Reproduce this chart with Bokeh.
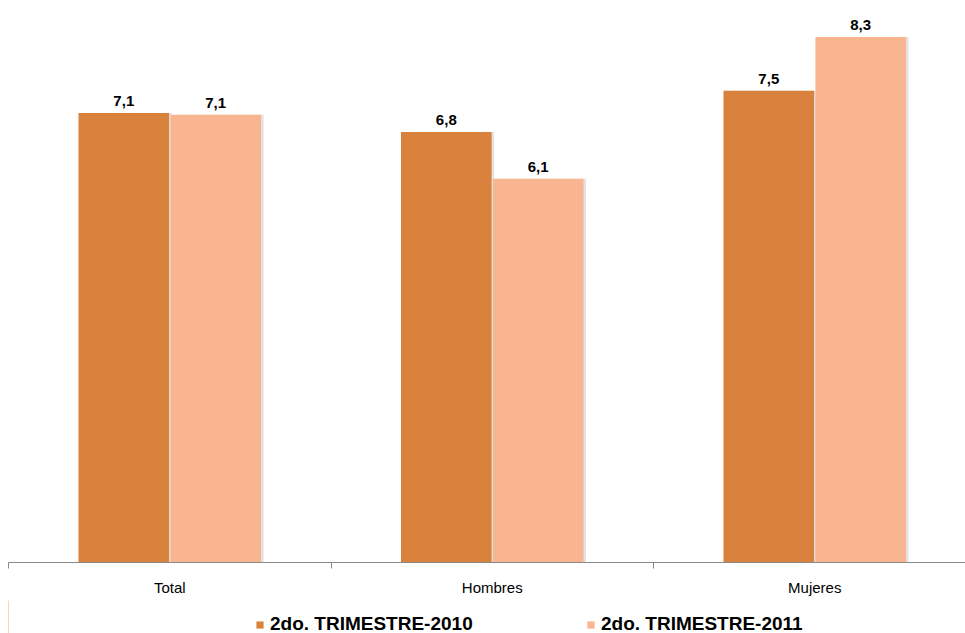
import numpy as np
from bokeh.plotting import figure
from bokeh.layouts import column
from bokeh.models import Range1d, FixedTicker, ColumnDataSource, Legend, LegendItem
from bokeh.core.properties import value
from bokeh.embed import file_html
from bokeh.resources import INLINE

categories = ["Total", "Hombres", "Mujeres"]
series_names = ["2do. TRIMESTRE-2010", "2do. TRIMESTRE-2011"]
values_2010 = [7.1, 6.8, 7.45]
values_2011 = [7.07, 6.06, 8.3]
labels_2010 = ["7,1", "6,8", "7,5"]
labels_2011 = ["7,1", "6,1", "8,3"]
colors = ["#D9823D", "#F8B590"]

FONT = "Liberation Sans"
W = 965
FW = 957
cat_px = 322.5

p = figure(width=W, height=600, output_backend="svg", toolbar_location=None,
           x_range=Range1d(0, FW / cat_px), y_range=Range1d(0, 8.75),
           min_border_left=8, min_border_right=0, min_border_top=8, min_border_bottom=38)
p.outline_line_color = None
p.grid.grid_line_color = None
p.yaxis.visible = False
p.background_fill_color = "white"
p.border_fill_color = "white"

centers = np.arange(len(categories)) + 0.5
off = 0.1425
bw = 0.281
shadow = 2.5 / cat_px

for vals, labs, col, d in [(values_2010, labels_2010, colors[0], -off),
                           (values_2011, labels_2011, colors[1], off)]:
    src = ColumnDataSource(dict(x=centers + d, xs=centers + d + shadow, top=vals, lab=labs))
    p.vbar(x="xs", top="top", width=bw, source=src, fill_color="#E2E2E2", line_color=None)
    p.vbar(x="x", top="top", width=bw, source=src, fill_color=col, line_color=None)
    p.text(x="x", y="top", text="lab", source=src, text_align="center", text_baseline="bottom",
           y_offset=-7, text_font=value(FONT), text_font_style="bold", text_font_size="15px",
           text_color="#000000")

ax = p.xaxis[0]
ax.ticker = FixedTicker(ticks=list(centers), minor_ticks=list(range(len(categories) + 1)))
ax.major_label_overrides = {float(c): n for c, n in zip(centers, categories)}
ax.major_tick_out = 0
ax.major_tick_in = 0
ax.minor_tick_out = 6
ax.minor_tick_in = 0
ax.minor_tick_line_color = "#888888"
ax.axis_line_color = "#888888"
ax.major_label_standoff = 10
ax.major_label_text_font = FONT
ax.major_label_text_font_size = "15px"
ax.major_label_text_color = "#000000"

# legend strip below the chart
lg = figure(width=W, height=33, output_backend="svg", toolbar_location=None,
            x_range=Range1d(0, 1), y_range=Range1d(0, 1),
            min_border_left=0, min_border_right=0, min_border_top=0, min_border_bottom=0)
lg.axis.visible = False
lg.grid.grid_line_color = None
lg.outline_line_color = None
lg_renderers = [lg.vbar(x=[-10], top=[1], width=0.1, fill_color=c, line_color=None) for c in colors]

legend = Legend(items=[LegendItem(label=n, renderers=[r]) for n, r in zip(series_names, lg_renderers)],
                orientation="horizontal", location=(247, -2),
                label_text_font=FONT, label_text_font_style="bold", label_text_font_size="19px",
                label_text_color="#000000", glyph_width=9, glyph_height=9,
                spacing=0, label_width=316, padding=2, margin=0, border_line_color=None,
                label_standoff=6, background_fill_alpha=0)
lg.add_layout(legend)

open("out.html", "w").write(file_html(column(p, lg, spacing=0), INLINE))
